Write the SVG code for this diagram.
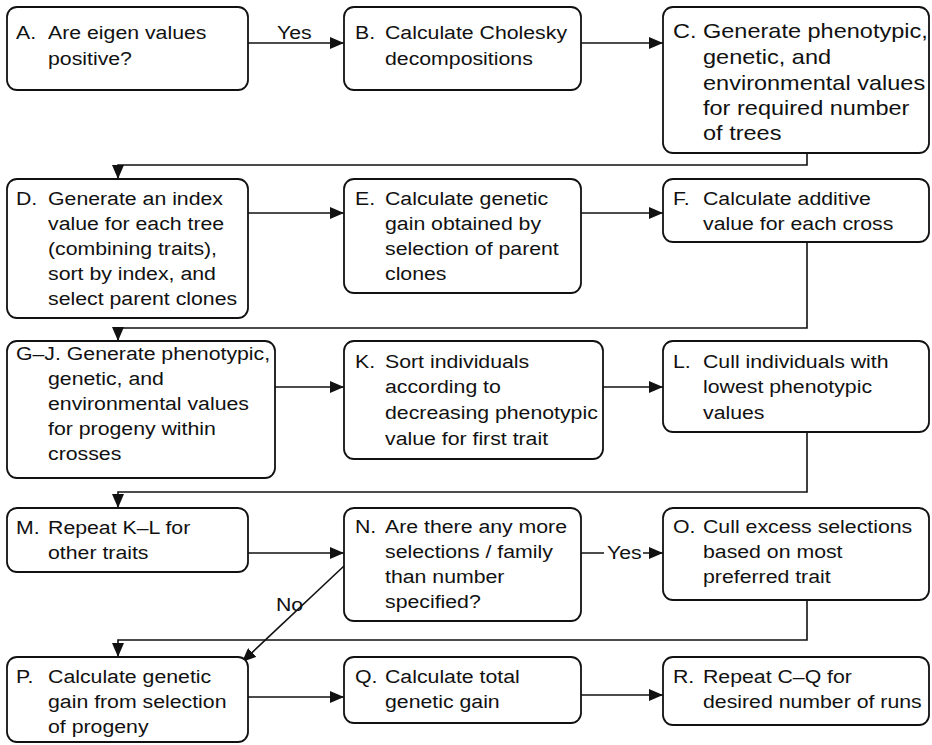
<svg xmlns="http://www.w3.org/2000/svg" width="932" height="745" viewBox="0 0 932 745">
<style>
.box{fill:#fff;stroke:#111;stroke-width:1.8}
.conn{fill:none;stroke:#111;stroke-width:1.6}
.t{font-family:"Liberation Sans",Arial,sans-serif;font-size:19px;fill:#111}
.big{font-size:21px}
</style>
<defs>
<marker id="ah" viewBox="0 0 14 12" refX="14" refY="6" markerWidth="14" markerHeight="12" markerUnits="userSpaceOnUse" orient="auto">
<path d="M0,0 L14,6 L0,12 z" fill="#111"/>
</marker>
</defs>
<rect width="932" height="745" fill="#fff"/>
<g id="connectors">
<path class="conn" d="M248,43 H344" marker-end="url(#ah)"/>
<path class="conn" d="M581,43 H663" marker-end="url(#ah)"/>
<path class="conn" d="M807,153 V165 H118 V179" marker-end="url(#ah)"/>
<path class="conn" d="M248,213 H344" marker-end="url(#ah)"/>
<path class="conn" d="M581,213 H663" marker-end="url(#ah)"/>
<path class="conn" d="M807,242 V328 H118 V341" marker-end="url(#ah)"/>
<path class="conn" d="M275,387 H344" marker-end="url(#ah)"/>
<path class="conn" d="M603,387 H663" marker-end="url(#ah)"/>
<path class="conn" d="M807,432 V492 H118 V508" marker-end="url(#ah)"/>
<path class="conn" d="M248,553 H344" marker-end="url(#ah)"/>
<path class="conn" d="M581,553 H663" marker-end="url(#ah)"/>
<path class="conn" d="M807,600 V640 H118 V657" marker-end="url(#ah)"/>
<path class="conn" d="M344,566 L242,662" marker-end="url(#ah)"/>
<path class="conn" d="M248,697 H344" marker-end="url(#ah)"/>
<path class="conn" d="M581,695 H663" marker-end="url(#ah)"/>
<text class="t" transform="translate(277,0) scale(1.12,1)" y="39">Yes</text>
<rect x="604" y="543" width="39" height="20" fill="#fff"/>
<text class="t" transform="translate(607,0) scale(1.12,1)" y="559">Yes</text>
<text class="t" transform="translate(276,0) scale(1.12,1)" y="611">No</text>
</g>
<g id="nodeA">
<rect class="box" x="7" y="7" width="241" height="83" rx="10"/>
<text class="t" transform="translate(16,0) scale(1.12,1)"><tspan x="0" y="39">A.</tspan><tspan x="28.6" y="39">Are eigen values</tspan><tspan x="28.6" y="65">positive?</tspan></text>
</g>
<g id="nodeB">
<rect class="box" x="344" y="7" width="237" height="83" rx="10"/>
<text class="t" transform="translate(355,0) scale(1.12,1)"><tspan x="0" y="39">B.</tspan><tspan x="26.8" y="39">Calculate Cholesky</tspan><tspan x="26.8" y="65">decompositions</tspan></text>
</g>
<g id="nodeC">
<rect class="box" x="663" y="7" width="266" height="146" rx="10"/>
<text class="t big" transform="translate(673,0) scale(1.12,1)"><tspan x="0" y="38">C.</tspan><tspan x="26.8" y="38">Generate phenotypic,</tspan><tspan x="26.8" y="64">genetic, and</tspan><tspan x="26.8" y="90">environmental values</tspan><tspan x="26.8" y="115">for required number</tspan><tspan x="26.8" y="140">of trees</tspan></text>
</g>
<g id="nodeD">
<rect class="box" x="7" y="179" width="241" height="139" rx="10"/>
<text class="t" transform="translate(16,0) scale(1.12,1)"><tspan x="0" y="205">D.</tspan><tspan x="28.6" y="205">Generate an index</tspan><tspan x="28.6" y="230">value for each tree</tspan><tspan x="28.6" y="255">(combining traits),</tspan><tspan x="28.6" y="280">sort by index, and</tspan><tspan x="28.6" y="305">select parent clones</tspan></text>
</g>
<g id="nodeE">
<rect class="box" x="344" y="179" width="237" height="114" rx="10"/>
<text class="t" transform="translate(355,0) scale(1.12,1)"><tspan x="0" y="205">E.</tspan><tspan x="26.8" y="205">Calculate genetic</tspan><tspan x="26.8" y="230">gain obtained by</tspan><tspan x="26.8" y="255">selection of parent</tspan><tspan x="26.8" y="280">clones</tspan></text>
</g>
<g id="nodeF">
<rect class="box" x="663" y="179" width="266" height="63" rx="10"/>
<text class="t" transform="translate(673,0) scale(1.12,1)"><tspan x="0" y="205">F.</tspan><tspan x="26.8" y="205">Calculate additive</tspan><tspan x="26.8" y="230">value for each cross</tspan></text>
</g>
<g id="nodeGJ">
<rect class="box" x="7" y="341" width="268" height="137" rx="10"/>
<text class="t" transform="translate(16,0) scale(1.12,1)"><tspan x="0" y="360">G–J. Generate phenotypic,</tspan><tspan x="28.6" y="385">genetic, and</tspan><tspan x="28.6" y="410">environmental values</tspan><tspan x="28.6" y="435">for progeny within</tspan><tspan x="28.6" y="460">crosses</tspan></text>
</g>
<g id="nodeK">
<rect class="box" x="344" y="341" width="259" height="118" rx="10"/>
<text class="t" transform="translate(355,0) scale(1.12,1)"><tspan x="0" y="368">K.</tspan><tspan x="26.8" y="368">Sort individuals</tspan><tspan x="26.8" y="393">according to</tspan><tspan x="26.8" y="419">decreasing phenotypic</tspan><tspan x="26.8" y="445">value for first trait</tspan></text>
</g>
<g id="nodeL">
<rect class="box" x="663" y="341" width="266" height="91" rx="10"/>
<text class="t" transform="translate(673,0) scale(1.12,1)"><tspan x="0" y="368">L.</tspan><tspan x="26.8" y="368">Cull individuals with</tspan><tspan x="26.8" y="393">lowest phenotypic</tspan><tspan x="26.8" y="419">values</tspan></text>
</g>
<g id="nodeM">
<rect class="box" x="7" y="508" width="241" height="64" rx="10"/>
<text class="t" transform="translate(16,0) scale(1.12,1)"><tspan x="0" y="534">M.</tspan><tspan x="28.6" y="534">Repeat K–L for</tspan><tspan x="28.6" y="559">other traits</tspan></text>
</g>
<g id="nodeN">
<rect class="box" x="344" y="508" width="237" height="113" rx="10"/>
<text class="t" transform="translate(355,0) scale(1.12,1)"><tspan x="0" y="533">N.</tspan><tspan x="26.8" y="533">Are there any more</tspan><tspan x="26.8" y="558">selections / family</tspan><tspan x="26.8" y="583">than number</tspan><tspan x="26.8" y="608">specified?</tspan></text>
</g>
<g id="nodeO">
<rect class="box" x="663" y="508" width="266" height="92" rx="10"/>
<text class="t" transform="translate(673,0) scale(1.12,1)"><tspan x="0" y="533">O.</tspan><tspan x="26.8" y="533">Cull excess selections</tspan><tspan x="26.8" y="558">based on most</tspan><tspan x="26.8" y="583">preferred trait</tspan></text>
</g>
<g id="nodeP">
<rect class="box" x="7" y="657" width="241" height="85" rx="10"/>
<text class="t" transform="translate(16,0) scale(1.12,1)"><tspan x="0" y="683">P.</tspan><tspan x="28.6" y="683">Calculate genetic</tspan><tspan x="28.6" y="708">gain from selection</tspan><tspan x="28.6" y="733">of progeny</tspan></text>
</g>
<g id="nodeQ">
<rect class="box" x="344" y="657" width="237" height="66" rx="10"/>
<text class="t" transform="translate(355,0) scale(1.12,1)"><tspan x="0" y="683">Q.</tspan><tspan x="26.8" y="683">Calculate total</tspan><tspan x="26.8" y="708">genetic gain</tspan></text>
</g>
<g id="nodeR">
<rect class="box" x="663" y="657" width="266" height="68" rx="10"/>
<text class="t" transform="translate(673,0) scale(1.12,1)"><tspan x="0" y="683">R.</tspan><tspan x="26.8" y="683">Repeat C–Q for</tspan><tspan x="26.8" y="708">desired number of runs</tspan></text>
</g>
</svg>
